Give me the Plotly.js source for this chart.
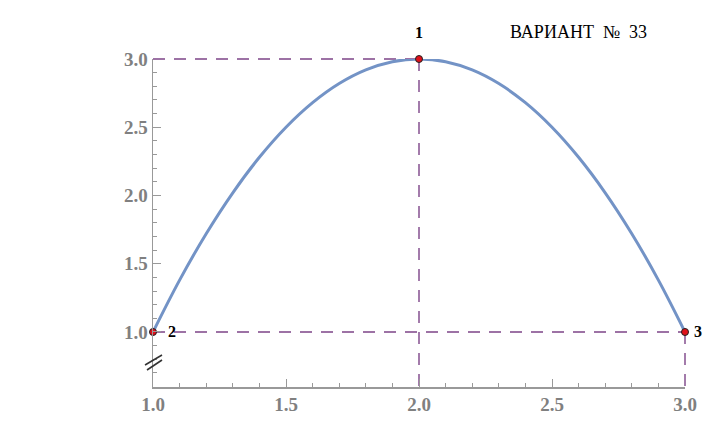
<!DOCTYPE html>
<html><head><meta charset="utf-8">
<script src="https://cdn.plot.ly/plotly-3.0.1.min.js"></script>
<style>body{margin:0;background:#fff}#c{width:714px;height:425px}</style>
</head><body><div id="c"></div>
<script>
// curve values
var curveX = [1.0,1.1,1.2,1.3,1.4,1.5,1.6,1.7,1.8,1.9,2.0,2.1,2.2,2.3,2.4,2.5,2.6,2.7,2.8,2.9,3.0];
var curveY = [1.0,1.38,1.72,2.02,2.28,2.5,2.68,2.82,2.92,2.98,3.0,2.98,2.92,2.82,2.68,2.5,2.28,2.02,1.72,1.38,1.0];
// marked points
var ptX = [2, 1, 3];
var ptY = [3, 1, 1];
var ptLabels = ['1', '2', '3'];
var titleText = 'ВАРИАНТ\u00a0\u00a0№\u00a0\u00a033';
var yBottom = 0.597;

var serif = 'Liberation Serif, Times New Roman, serif';
var dashColor = '#7d4488';
var dashLine = {color:dashColor, width:1.4, dash:'12px,9px'};
var shapes = [
  {xref:'x', yref:'paper', x0:1, x1:2, y0:1, y1:1},
  {xref:'x', yref:'y', x0:2, x1:2, y0:3, y1:yBottom},
  {xref:'x', yref:'y', x0:1, x1:3, y0:1, y1:1},
  {xref:'paper', yref:'y', x0:1, x1:1, y0:1, y1:yBottom}
].map(function(s){ s.type='line'; s.layer='below'; s.line=dashLine; return s; });
// axis break marks (paper coords so they are not clipped)
shapes.push({type:'line', xref:'paper', yref:'paper', x0:-0.0150, x1:0.0169, y0:0.0671, y1:0.0976, line:{color:'#333', width:1.6}});
shapes.push({type:'line', xref:'paper', yref:'paper', x0:-0.0113, x1:0.0169, y0:0.0518, y1:0.0823, line:{color:'#333', width:1.6}});

var lblFont = {family:serif, size:16, color:'#000'};
var annotations = [
  {xref:'x', yref:'y', x:ptX[0], y:ptY[0], text:'<b>'+ptLabels[0]+'</b>', showarrow:false, yshift:27, font:lblFont},
  {xref:'x', yref:'y', x:ptX[1], y:ptY[1], text:'<b>'+ptLabels[1]+'</b>', showarrow:false, xshift:19, font:lblFont},
  {xref:'x', yref:'y', x:ptX[2], y:ptY[2], text:'<b>'+ptLabels[2]+'</b>', showarrow:false, xshift:13, font:lblFont},
  {xref:'paper', yref:'paper', x:0.800, y:1.082, xanchor:'center', yanchor:'middle', text:titleText, showarrow:false, font:{family:serif, size:18, color:'#000'}}
];

var traces = [
  {x:curveX, y:curveY, mode:'lines', line:{color:'#7393c6', width:3, shape:'spline'}, cliponaxis:false, hoverinfo:'none'},
  {x:ptX, y:ptY, mode:'markers', marker:{color:'#e0101a', size:7, line:{color:'#222', width:1}}, cliponaxis:false, hoverinfo:'none'}
];

var tickFont = {family:serif, size:19, color:'#808080', weight:'bold'};
var layout = {
  width:714, height:425, showlegend:false,
  paper_bgcolor:'#fff', plot_bgcolor:'#fff',
  margin:{l:153, r:29, t:59, b:38},
  xaxis:{range:[1,3], showgrid:false, zeroline:false, showline:true, linecolor:'#999', linewidth:1.5,
    ticks:'inside', ticklen:8, tickcolor:'#999', tickwidth:1, dtick:0.5, tick0:1, tickformat:'.1f',
    minor:{dtick:0.1, ticks:'inside', ticklen:4, tickcolor:'#999'}, tickfont:tickFont},
  yaxis:{range:[yBottom,3], showgrid:false, zeroline:false, showline:true, linecolor:'#999', linewidth:1.5,
    ticks:'inside', ticklen:8, tickcolor:'#999', tickwidth:1, dtick:0.5, tick0:1, tickformat:'.1f',
    minor:{dtick:0.1, ticks:'inside', ticklen:4, tickcolor:'#999'}, tickfont:tickFont},
  shapes:shapes, annotations:annotations
};
Plotly.newPlot('c', traces, layout, {staticPlot:true});
</script></body></html>
